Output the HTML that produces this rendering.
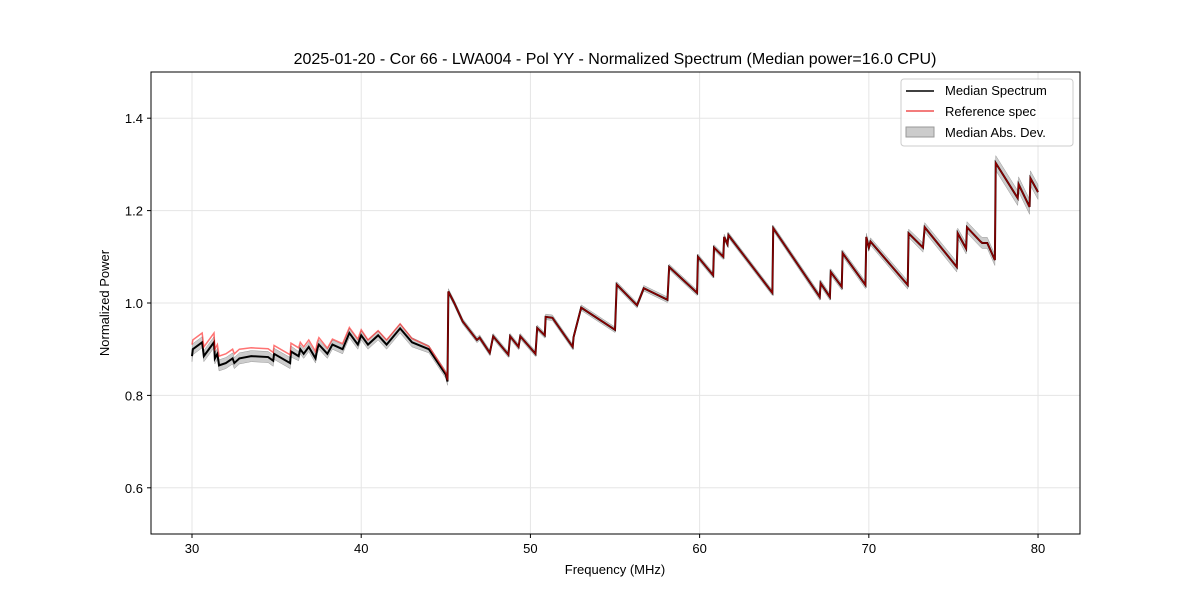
<!DOCTYPE html>
<html><head><meta charset="utf-8"><style>
body{margin:0;background:#fff;font-family:"Liberation Sans","DejaVu Sans",sans-serif}
svg text{font-family:"Liberation Sans","DejaVu Sans",sans-serif}
</style></head><body>
<svg id="chart" width="1200" height="600" xmlns="http://www.w3.org/2000/svg">
<rect width="1200" height="600" fill="#fff"/>
<text x="615" y="64" text-anchor="middle" font-size="16">2025-01-20 - Cor 66 - LWA004 - Pol YY - Normalized Spectrum (Median power=16.0 CPU)</text>
<g id="grid"></g>
<g id="series"></g>
<rect x="151" y="72" width="929" height="462" fill="none" stroke="#000" stroke-width="1"/>
<g id="axes"></g>
<text x="615" y="574" text-anchor="middle" font-size="13">Frequency (MHz)</text>
<text transform="translate(109,303) rotate(-90)" text-anchor="middle" font-size="13">Normalized Power</text>
<g>
<rect x="901" y="79" width="172" height="67" rx="3" fill="#fff" fill-opacity="0.8" stroke="#ccc"/>
<line x1="906" y1="91" x2="934" y2="91" stroke="#000" stroke-width="1.5"/>
<text x="945" y="95" font-size="13">Median Spectrum</text>
<line x1="906" y1="111" x2="934" y2="111" stroke="#ef5050" stroke-width="1.5"/>
<text x="945" y="116" font-size="13">Reference spec</text>
<rect x="906" y="127" width="28" height="10" fill="#000" fill-opacity="0.2" stroke="#999"/>
<text x="945" y="137" font-size="13">Median Abs. Dev.</text>
</g>
</svg>
<script>
const xTicks=[30,40,50,60,70,80];
const yTicks=[0.6,0.8,1.0,1.2,1.4];
const yTickLabels=["0.6","0.8","1.0","1.2","1.4"];
const freqs=[30.0,30.05,30.6,30.7,31.3,31.35,31.5,31.6,32.0,32.4,32.5,32.8,33.5,34.5,34.8,34.85,35.8,35.85,36.3,36.4,36.6,36.9,37.3,37.4,37.5,38.0,38.3,38.9,39.3,39.8,40.0,40.4,41.0,41.5,42.3,43.0,44.0,45.0,45.1,45.15,45.5,46.0,46.84,47.0,47.6,47.8,48.7,48.8,49.3,49.4,50.3,50.4,50.85,50.9,51.3,52.5,52.55,53.0,55.0,55.1,56.3,56.7,58.1,58.2,59.85,59.9,60.8,60.85,61.4,61.45,61.65,61.7,64.3,64.35,67.1,67.15,67.7,67.75,68.4,68.45,69.8,69.85,70.0,70.1,72.3,72.35,73.2,73.3,75.2,75.25,75.75,75.8,76.6,76.7,77.0,77.45,77.5,78.8,78.85,79.5,79.55,80.0];
const median=[0.885,0.90,0.915,0.885,0.915,0.88,0.89,0.865,0.87,0.88,0.87,0.88,0.885,0.883,0.875,0.89,0.87,0.895,0.885,0.90,0.89,0.905,0.88,0.90,0.91,0.89,0.91,0.90,0.935,0.91,0.93,0.91,0.93,0.91,0.945,0.915,0.90,0.845,0.83,1.025,1.00,0.96,0.92,0.925,0.892,0.928,0.888,0.928,0.905,0.928,0.89,0.946,0.93,0.97,0.968,0.905,0.926,0.99,0.942,1.04,0.995,1.032,1.007,1.078,1.022,1.10,1.06,1.12,1.10,1.143,1.127,1.147,1.022,1.162,1.013,1.043,1.013,1.067,1.035,1.108,1.039,1.143,1.12,1.133,1.039,1.151,1.12,1.164,1.078,1.151,1.118,1.164,1.133,1.13,1.13,1.093,1.303,1.227,1.257,1.208,1.27,1.24];
const refOffset=[0.025,0.02,0.02,0.02,0.02,0.02,0.02,0.02,0.02,0.02,0.02,0.02,0.018,0.018,0.018,0.018,0.018,0.018,0.018,0.015,0.015,0.015,0.015,0.015,0.015,0.012,0.012,0.012,0.012,0.012,0.012,0.01,0.01,0.01,0.01,0.008,0.006,0.004,0.003,0,0,0,0,0,0,0,0,0,0,0,0,0,0,0,0,0,0,0,0,0,0,0,0,0,0,0,0,0,0,0,0,0,0,0,0,0,0,0,0,0,0,0,0,0,0,0,0,0,0,0,0,0,0,0,0,0,0,0,0,0,0,0];
const mad=[0.012,0.012,0.012,0.012,0.012,0.012,0.012,0.012,0.012,0.012,0.012,0.012,0.012,0.012,0.012,0.012,0.012,0.012,0.01,0.01,0.01,0.01,0.01,0.01,0.01,0.01,0.01,0.01,0.01,0.01,0.01,0.01,0.01,0.01,0.01,0.01,0.008,0.008,0.008,0.006,0.006,0.006,0.006,0.006,0.006,0.006,0.006,0.006,0.006,0.006,0.006,0.006,0.006,0.006,0.006,0.006,0.006,0.006,0.006,0.006,0.006,0.006,0.006,0.006,0.006,0.006,0.006,0.006,0.006,0.006,0.006,0.006,0.006,0.006,0.007,0.007,0.007,0.007,0.007,0.007,0.008,0.008,0.008,0.008,0.009,0.009,0.01,0.01,0.011,0.011,0.012,0.012,0.012,0.012,0.012,0.012,0.016,0.016,0.016,0.016,0.016,0.016];
const X0=27.577,X1=82.48,Y0=0.5,Y1=1.5,PL=151,PR=1080,PT=72,PB=534;
const sx=v=>PL+(v-X0)/(X1-X0)*(PR-PL);
const sy=v=>PB-(v-Y0)/(Y1-Y0)*(PB-PT);
const NS="http://www.w3.org/2000/svg";
function mk(t,a){const e=document.createElementNS(NS,t);for(const k in a)e.setAttribute(k,a[k]);return e;}
const grid=document.getElementById('grid'),axes=document.getElementById('axes'),ser=document.getElementById('series');
xTicks.forEach(t=>{const x=sx(t);
const g=mk('line',{x1:x,x2:x,y1:PT,y2:PB,stroke:'#e5e5e5','stroke-width':1});

grid.appendChild(g);
const tk=mk('line',{x1:x,x2:x,y1:PB,y2:PB+4,stroke:'#000'});

axes.appendChild(tk);
const tx=mk('text',{x:x,y:PB+19,'text-anchor':'middle','font-size':13});tx.textContent=t;

axes.appendChild(tx);});
yTicks.forEach((t,i)=>{const y=sy(t);
const g=mk('line',{x1:PL,x2:PR,y1:y,y2:y,stroke:'#e5e5e5','stroke-width':1});

grid.appendChild(g);
const tk=mk('line',{x1:PL-4,x2:PL,y1:y,y2:y,stroke:'#000'});

axes.appendChild(tk);
const tx=mk('text',{x:PL-8,y:y+5,'text-anchor':'end','font-size':13});tx.textContent=yTickLabels[i];

axes.appendChild(tx);});
let up=[],dn=[];
freqs.forEach((f,i)=>{up.push(sx(f)+','+sy(median[i]+mad[i]));dn.unshift(sx(f)+','+sy(median[i]-mad[i]));});
const band=mk('polygon',{points:up.concat(dn).join(' '),fill:'#000','fill-opacity':0.2,stroke:'#999','stroke-width':0.5});

ser.appendChild(band);
const mp=freqs.map((f,i)=>sx(f)+','+sy(median[i])).join(' ');
const ml=mk('polyline',{points:mp,fill:'none',stroke:'#000','stroke-width':2});

ser.appendChild(ml);
const rp=freqs.map((f,i)=>sx(f)+','+sy(median[i]+refOffset[i])).join(' ');
const rl=mk('polyline',{points:rp,fill:'none',stroke:'#ff0000','stroke-opacity':0.55,'stroke-width':1.5});

ser.appendChild(rl);
</script>
</body></html>
